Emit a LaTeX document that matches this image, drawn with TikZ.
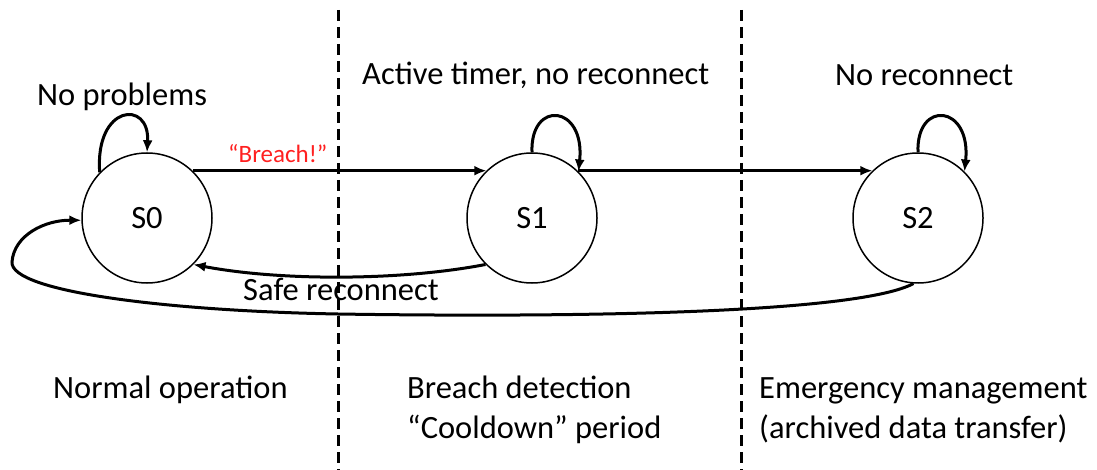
\documentclass[tikz,border=0pt]{standalone}
\usepackage{fontspec}
\setmainfont{Carlito}
\usetikzlibrary{arrows.meta}
\definecolor{breachred}{RGB}{255,32,32}
\tikzset{
  state/.style={circle, draw, line width=1.5pt, minimum size=130pt, inner sep=0pt,
                font=\fontsize{32.5}{40}\selectfont},
  txt/.style={inner sep=0pt, font=\fontsize{32.5}{40}\selectfont},
  trans/.style={line width=3pt, -{Latex[length=12pt,width=10pt]}},
  divider/.style={line width=3pt, dash pattern=on 11pt off 6pt},
}
\begin{document}
\begin{tikzpicture}[x=1pt, y=-1pt]
  \useasboundingbox (0,0) rectangle (1097,470);

  % phase dividers
  \draw[divider] (338,10) -- (338,470);
  \draw[divider] (741,10) -- (741,470);

  % states
  \node[state] (s0) at (147,218) {};
  \node[state] (s1) at (532,218) {};
  \node[state] (s2) at (918,218) {};
  \node[txt, anchor=base] at (147,229) {S0};
  \node[txt, anchor=base] at (532,229) {S1};
  \node[txt, anchor=base] at (918,229) {S2};

  % self loops
  \draw[trans] (s0.136) .. controls +(-5,-68) and +(3,-53) .. (s0.90);
  \draw[trans] (s1.90) .. controls +(-2,-53) and +(7,-67) .. (s1.45);
  \draw[trans] (s2.90) .. controls +(-2,-53) and +(7,-67) .. (s2.45);

  % forward transitions
  \draw[trans] (s0.46) -- (s1.134);
  \draw[trans] (s1.46) -- (s2.134);

  % safe reconnect back to S0
  \draw[trans] (s1.225) .. controls (400,281) and (280,281) .. (s0.315);

  % return from S2 to S0
  \draw[trans] (s2.266) .. controls (860,312) and (600,318) .. (338,314)
     .. controls (170,311) and (10,292) .. (12,262)
     .. controls (14,235) and (45,220) .. (s0.182);

  % transition labels
  \node[txt, anchor=base west] (lnp) at (37,106) {No problems};
  \node[txt, anchor=base west] (lat) at (362,85) {Active timer, no reconnect};
  \node[txt, anchor=base west] (lnr) at (835,86) {No reconnect};
  \node[txt, anchor=base west, text=breachred, font=\fontsize{25}{30}\selectfont] (lbr) at (228,163) {“Breach!”};
  \node[txt, anchor=base west] (lsr) at (243,300) {Safe reconnect};

  % phase captions
  \node[txt, anchor=base west] (p0) at (53,398) {Normal operation};
  \node[txt, anchor=base west] (p1a) at (407,398) {Breach detection};
  \node[txt, anchor=base west] (p1b) at (407,438) {“Cooldown” period};
  \node[txt, anchor=base west] (p2a) at (759,398) {Emergency management};
  \node[txt, anchor=base west] (p2b) at (759,438) {(archived data transfer)};
\end{tikzpicture}
\end{document}
